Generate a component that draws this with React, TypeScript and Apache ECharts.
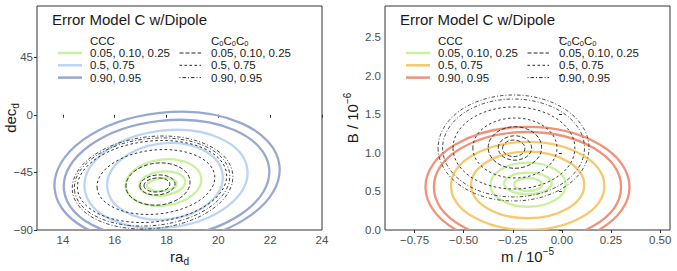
import React, { useEffect, useRef } from "react";
import * as echarts from "echarts";

// Contour ellipses: [centre x, centre y, semi-axis x, semi-axis y, tilt (deg)] in data units
const levelLabels = ["0.05, 0.10, 0.25", "0.5, 0.75", "0.90, 0.95"];

// Left panel (ra_d, dec_d)
const leftCCCLow = [
  [17.82, -54.5, 0.58, 5.1, 5],
  [17.84, -53.7, 0.89, 9.4, 6],
  [17.88, -52.9, 1.47, 18.0, 7],
];
const leftCCCMid = [
  [17.94, -52.0, 2.24, 29.7, 7],
  [17.98, -50.2, 3.16, 37.9, 7],
];
const leftCCCHigh = [
  [18.0, -50.2, 3.98, 45.7, 6],
  [18.02, -49.0, 4.36, 50.8, 6],
];
const leftC0Low = [
  [17.63, -54.8, 0.5, 5.5, 4],
  [17.65, -54.8, 0.68, 7.8, 5],
  [17.67, -54.1, 1.24, 16.4, 6],
];
const leftC0Mid = [
  [17.59, -52.5, 2.28, 25.0, 6],
  [17.44, -52.1, 2.89, 31.6, 6],
];
const leftC0High = [
  [17.44, -52.5, 3.01, 34.0, 6],
  [17.46, -52.9, 3.11, 35.9, 6],
];

// Right panel (m / 1e-5, B / 1e-6)
const rightCCCLow = [
  [-0.172, 0.589, 0.071, 0.084, 0],
  [-0.173, 0.602, 0.121, 0.14, 0],
  [-0.172, 0.586, 0.192, 0.285, 0],
];
const rightCCCMid = [
  [-0.174, 0.583, 0.288, 0.431, 0],
  [-0.174, 0.57, 0.39, 0.57, 0],
];
const rightCCCHigh = [
  [-0.175, 0.557, 0.476, 0.712, 0],
  [-0.175, 0.557, 0.519, 0.777, 0],
];
const rightC0Low = [
  [-0.245, 1.058, 0.057, 0.107, 0],
  [-0.239, 1.062, 0.085, 0.158, 0],
  [-0.239, 1.068, 0.136, 0.269, 0],
];
const rightC0Mid = [
  [-0.239, 1.062, 0.214, 0.388, 0],
  [-0.244, 1.062, 0.31, 0.531, 0],
];
const rightC0High = [
  [-0.246, 1.062, 0.361, 0.634, 0],
  [-0.246, 1.062, 0.384, 0.686, 0],
];

const leftXTicks = [14, 16, 18, 20, 22, 24];
const leftYTicks = [-90, -45, 0, 45];
const rightXTicks = [-0.75, -0.5, -0.25, 0, 0.25, 0.5];
const rightYTicks = [0, 0.5, 1, 1.5, 2, 2.5];

const FONT = "'Liberation Sans', Arial, Helvetica, sans-serif";
const GREEN = "#c9f1a0";
const LBLUE = "#bcd5f5";
const DBLUE = "#98a8d2";
const ORANGE = "#f6c96c";
const RED = "#f2917a";
const INK = "#262626";
const DASH_LONG = [4, 2];
const DASH_SHORT = [2.5, 2.5];
const DASH_DOT = [1, 2, 3.5, 2];

const minus = (s: string) => s.replace("-", "\u2212");

function ellipseRenderer(stroke: string, lineWidth: number, lineDash: number[] | null) {
  return (_params: any, api: any) => {
    const c = api.coord([api.value(0), api.value(1)]);
    const s = api.size([api.value(2), api.value(3)]);
    return {
      type: "ellipse",
      x: c[0],
      y: c[1],
      rotation: (api.value(4) * Math.PI) / 180,
      shape: { cx: 0, cy: 0, rx: s[0], ry: s[1] },
      style: {
        fill: "none",
        stroke,
        lineWidth,
        lineDash: lineDash || undefined,
      },
    };
  };
}

function contourSeries(idx: number, data: number[][], stroke: string, width: number, dash: number[] | null) {
  return {
    type: "custom",
    xAxisIndex: idx,
    yAxisIndex: idx,
    data,
    clip: true,
    silent: true,
    renderItem: ellipseRenderer(stroke, width, dash),
  };
}

function legendGraphics(dx: number, colors: string[]) {
  const rows = [53, 65.3, 77.6];
  const els: any[] = [];
  els.push({
    type: "text",
    x: 52 + dx,
    y: 19,
    style: { text: "Error Model C w/Dipole", fontSize: 15, fontFamily: FONT, fill: "#1a1a1a", verticalAlign: "middle" },
  });
  els.push({
    type: "text",
    x: 90 + dx,
    y: 40.5,
    style: { text: "CCC", fontSize: 11.5, lineHeight: 12, fontFamily: FONT, fill: "#1a1a1a", verticalAlign: "middle" },
  });
  els.push({
    type: "text",
    x: 211 + dx,
    y: 40.5,
    style: {
      text: "C{s|0}C{s|0}C{s|0}",
      fontSize: 11.5,
      fontFamily: FONT,
      fill: "#1a1a1a",
      verticalAlign: "middle",
      lineHeight: 13,
      rich: { s: { fontSize: 7.5, fontFamily: FONT, fill: "#1a1a1a", lineHeight: 7, verticalAlign: "bottom" } },
    },
  });
  const dashes = [DASH_LONG, DASH_SHORT, DASH_DOT];
  rows.forEach((y, i) => {
    els.push({
      type: "line",
      shape: { x1: 58 + dx, y1: y, x2: 82 + dx, y2: y },
      style: { stroke: colors[i], lineWidth: 2.5 },
    });
    els.push({
      type: "text",
      x: 90 + dx,
      y,
      style: { text: levelLabels[i], fontSize: 11.5, lineHeight: 12, fontFamily: FONT, fill: "#1a1a1a", verticalAlign: "middle" },
    });
    els.push({
      type: "line",
      shape: { x1: 179.5 + dx, y1: y, x2: 201 + dx, y2: y },
      style: { stroke: INK, lineWidth: 1, lineDash: dashes[i] },
    });
    els.push({
      type: "text",
      x: 211 + dx,
      y,
      style: { text: levelLabels[i], fontSize: 11.5, lineHeight: 12, fontFamily: FONT, fill: "#1a1a1a", verticalAlign: "middle" },
    });
  });
  return els;
}

const nameStyle = {
  fontSize: 15,
  fontFamily: FONT,
  color: "#1a1a1a",
  lineHeight: 20,
  rich: {
    sub: { fontSize: 10, fontFamily: FONT, color: "#1a1a1a", lineHeight: 10, verticalAlign: "bottom" },
    sup: { fontSize: 10, fontFamily: FONT, color: "#1a1a1a", lineHeight: 10, verticalAlign: "top" },
  },
};

function valueAxis(
  gridIndex: number,
  min: number,
  max: number,
  ticks: number[],
  fmt: (v: number) => string,
  name: string,
  nameGap: number
) {
  return {
    type: "value",
    gridIndex,
    min,
    max,
    name,
    nameLocation: "middle",
    nameGap,
    nameMoveOverlap: false,
    nameTextStyle: nameStyle,
    axisLine: { show: false },
    splitLine: { show: false },
    axisTick: { show: true, length: 3, customValues: ticks, lineStyle: { color: "#333", width: 1 } },
    axisLabel: {
      customValues: ticks,
      formatter: (v: number) => fmt(v),
      fontSize: 11.5,
      fontFamily: FONT,
      color: "#4d4d4d",
      margin: 4,
    },
  };
}

export default function App() {
  const ref = useRef<HTMLDivElement>(null);
  useEffect(() => {
    if (!ref.current) return;
    const chart = echarts.init(ref.current, undefined, { renderer: "svg" });
    chart.setOption({
      animation: false,
      backgroundColor: "#ffffff",
      grid: [
        {
          left: 37, top: 6, width: 285, height: 224, show: true, borderColor: "#333", borderWidth: 1,
          containLabel: false, outerBoundsMode: "none",
        },
        {
          left: 385, top: 6, width: 285, height: 224, show: true, borderColor: "#333", borderWidth: 1,
          containLabel: false, outerBoundsMode: "none",
        },
      ],
      xAxis: [
        valueAxis(0, 13, 24, leftXTicks, (v) => String(v), "ra{sub|d}", 16.5),
        valueAxis(1, -0.9, 0.55, rightXTicks, (v) => minus(v.toFixed(2)), "m / 10{sup|\u22125}", 16.5),
      ],
      yAxis: [
        valueAxis(0, -90, 85, leftYTicks, (v) => minus(String(v)), "dec{sub|d}", 17),
        valueAxis(1, 0, 2.9, rightYTicks, (v) => v.toFixed(1), "B / 10{sup|\u22126}", 23),
      ],
      series: [
        contourSeries(0, leftCCCLow, GREEN, 2.3, null),
        contourSeries(0, leftCCCMid, LBLUE, 2.3, null),
        contourSeries(0, leftCCCHigh, DBLUE, 2.3, null),
        contourSeries(0, leftC0Low, INK, 0.9, DASH_LONG),
        contourSeries(0, leftC0Mid, INK, 0.9, DASH_SHORT),
        contourSeries(0, leftC0High, INK, 0.8, DASH_DOT),
        contourSeries(1, rightCCCLow, GREEN, 2.3, null),
        contourSeries(1, rightCCCMid, ORANGE, 2.3, null),
        contourSeries(1, rightCCCHigh, RED, 2.3, null),
        contourSeries(1, rightC0Low, INK, 0.9, DASH_LONG),
        contourSeries(1, rightC0Mid, INK, 0.9, DASH_SHORT),
        contourSeries(1, rightC0High, INK, 0.8, DASH_DOT),
      ],
      graphic: [
        ...legendGraphics(0, [GREEN, LBLUE, DBLUE]),
        ...legendGraphics(348, [GREEN, ORANGE, RED]),
      ],
    });
    return () => chart.dispose();
  }, []);
  return <div ref={ref} style={{ position: "fixed", left: 0, top: 0, width: 677, height: 271 }} />;
}
